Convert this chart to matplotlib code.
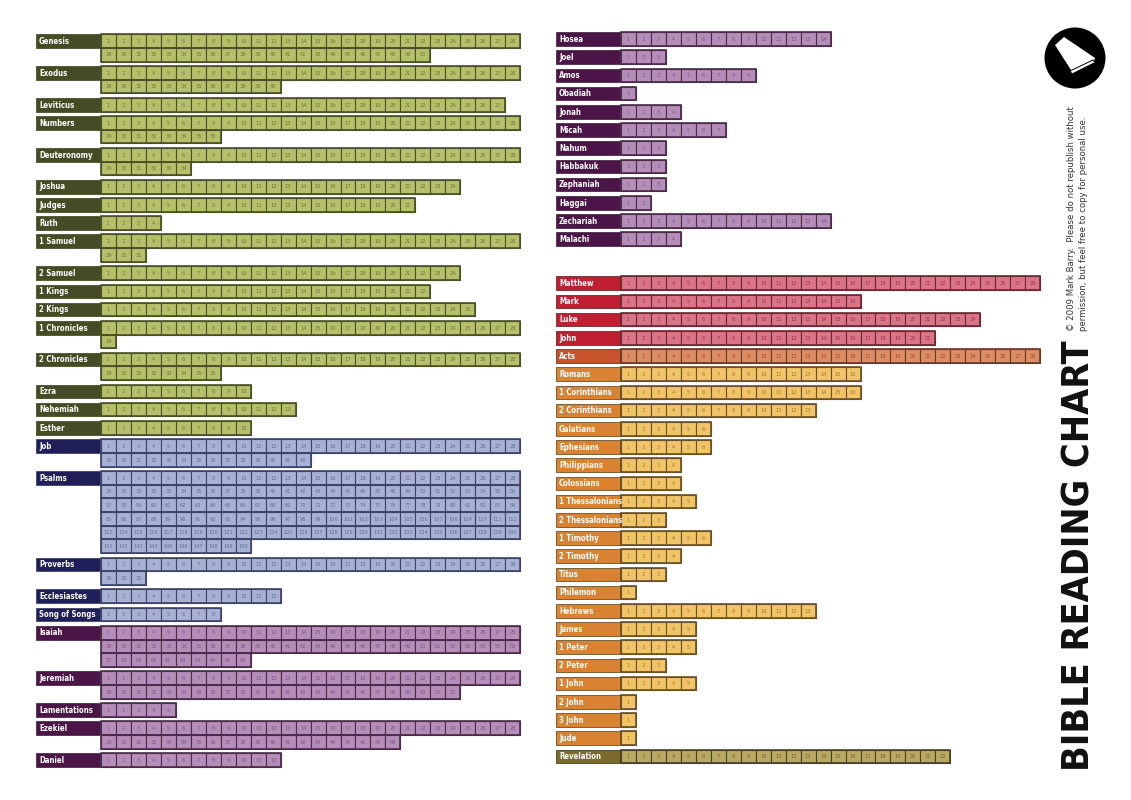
import matplotlib
matplotlib.use("Agg")
import matplotlib.pyplot as plt
from matplotlib.patches import Rectangle, Circle, Polygon

# chapter counts
left_books = ["Genesis", "Exodus", "Leviticus", "Numbers", "Deuteronomy", "Joshua",
              "Judges", "Ruth", "1 Samuel", "2 Samuel", "1 Kings", "2 Kings",
              "1 Chronicles", "2 Chronicles", "Ezra", "Nehemiah", "Esther", "Job",
              "Psalms", "Proverbs", "Ecclesiastes", "Song of Songs", "Isaiah",
              "Jeremiah", "Lamentations", "Ezekiel", "Daniel"]
left_chapters = [50, 40, 27, 36, 34, 24, 21, 4, 31, 24, 22, 25, 29, 36, 10, 13, 10,
                 42, 150, 31, 12, 8, 66, 52, 5, 48, 12]
left_groups = ["law"] * 17 + ["poetry"] * 5 + ["prophet"] * 5

ot_books = ["Hosea", "Joel", "Amos", "Obadiah", "Jonah", "Micah", "Nahum", "Habbakuk",
            "Zephaniah", "Haggai", "Zechariah", "Malachi"]
ot_chapters = [14, 3, 9, 1, 4, 7, 3, 3, 3, 2, 14, 4]
ot_groups = ["prophet"] * 12

nt_books = ["Matthew", "Mark", "Luke", "John", "Acts", "Romans", "1 Corinthians",
            "2 Corinthians", "Galatians", "Ephesians", "Philippians", "Colossians",
            "1 Thessalonians", "2 Thessalonians", "1 Timothy", "2 Timothy", "Titus",
            "Philemon", "Hebrews", "James", "1 Peter", "2 Peter", "1 John", "2 John",
            "3 John", "Jude", "Revelation"]
nt_chapters = [28, 16, 24, 21, 28, 16, 16, 13, 6, 6, 4, 4, 5, 3, 6, 4, 3, 1, 13, 5, 5,
               3, 5, 1, 1, 1, 22]
nt_groups = ["gospel"] * 4 + ["acts"] + ["epistle"] * 21 + ["revelation"]

# label fill, cell fill, cell edge, number colour
palette = {
    "law":        ("#454c25", "#b6c06a", "#4a5128", "#6c763e"),
    "poetry":     ("#1f1f5a", "#a7b1d3", "#3e4468", "#65709a"),
    "prophet":    ("#4b1547", "#b58db9", "#4b2c49", "#80567e"),
    "gospel":     ("#bf1f31", "#dc7487", "#6b2a32", "#93394a"),
    "acts":       ("#c6532b", "#dc8d63", "#6b3b25", "#915230"),
    "epistle":    ("#d98332", "#f0c467", "#6b5128", "#a07836"),
    "revelation": ("#7a6a2c", "#b9a963", "#4b4125", "#706236"),
}

FONT = "DejaVu Sans"
ROW_H = 13.66
GAP = 4.54
CELL_W = 14.97
LABEL_W = 64
PER_ROW = 28

fig = plt.figure(figsize=(11.31, 8), dpi=100)
ax = fig.add_axes([0, 0, 1, 1])
ax.set_xlim(0, 1131)
ax.set_ylim(800, 0)
ax.axis("off")


def draw_column(books, chapters, groups, x0, y0):
    y = y0
    for name, n, g in zip(books, chapters, groups):
        lab, fill, edge, tcol = palette[g]
        ax.add_patch(Rectangle((x0, y), LABEL_W, ROW_H, facecolor=lab,
                               edgecolor=edge, lw=0.6))
        ax.text(x0 + 3, y + ROW_H / 2 + 0.3, name, color="white", fontsize=5.6,
                fontweight="bold", family=FONT, fontstretch="condensed",
                va="center", ha="left")
        nrows = (n - 1) // PER_ROW + 1
        for r in range(nrows):
            cnt = min(PER_ROW, n - r * PER_ROW)
            cy = y + r * ROW_H
            cx0 = x0 + LABEL_W + 1
            for c in range(cnt):
                ch = r * PER_ROW + c + 1
                ax.add_patch(Rectangle((cx0 + c * CELL_W, cy), CELL_W, ROW_H,
                                       facecolor=fill, edgecolor=edge, lw=0.8))
                ax.text(cx0 + (c + 0.5) * CELL_W, cy + ROW_H / 2 + 0.3, str(ch),
                        color=tcol, fontsize=4.1, family=FONT,
                        fontstretch="condensed", ha="center", va="center")
            ax.add_patch(Rectangle((cx0, cy), cnt * CELL_W, ROW_H, facecolor="none",
                                   edgecolor=edge, lw=1.2))
        y += nrows * ROW_H + GAP
    return y


draw_column(left_books, left_chapters, left_groups, 36, 34.2)
y_end = draw_column(ot_books, ot_chapters, ot_groups, 556, 32.2)
draw_column(nt_books, nt_chapters, nt_groups, 556, y_end + 25.8)

# title and note
ax.text(1080, 771, "BIBLE READING CHART", rotation=90, ha="center", va="bottom",
        fontsize=27, fontweight="heavy", family=FONT, fontstretch="condensed",
        color="#111111")
ax.text(1071, 331, "\u00a9 2009 Mark Barry.  Please do not republish without",
        rotation=90, ha="center", va="bottom", fontsize=6.8, family=FONT,
        fontstretch="condensed", color="#333333")
ax.text(1083, 331, "permission, but feel free to copy for personal use.",
        rotation=90, ha="center", va="bottom", fontsize=6.8, family=FONT,
        fontstretch="condensed", color="#333333")

# logo
ax.add_patch(Circle((1075, 58), 30.5, facecolor="black", edgecolor="none"))
ax.add_patch(Polygon([(1055, 45), (1064, 37), (1095, 58), (1094, 61), (1076, 71),
                      (1071, 70)], closed=True, facecolor="white", edgecolor="none"))
ax.add_patch(Polygon([(1070, 71), (1093, 60), (1095, 62.5), (1072, 74)], closed=True,
                     facecolor="white", edgecolor="black", lw=0.7))

fig.savefig("out.png", dpi=100, facecolor="white")
